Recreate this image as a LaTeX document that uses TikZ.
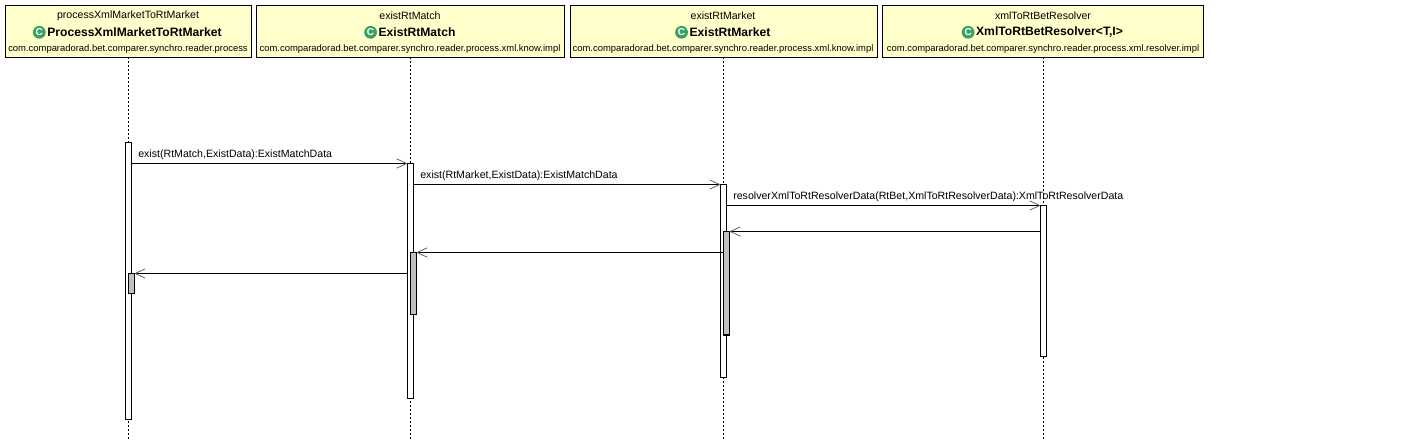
\documentclass[tikz,border=0pt]{standalone}
\usepackage{fontspec}
\setmainfont{Liberation Sans}
\usepackage{xcolor}
\usetikzlibrary{arrows.meta, positioning}
\definecolor{headfill}{RGB}{255,255,204}
\definecolor{iconfill}{RGB}{60,160,100}
\definecolor{focusfill}{RGB}{192,192,192}

\begin{document}
\begin{tikzpicture}[
    x=0.75pt, y=-0.75pt,
    head/.style={rectangle, draw, line width=0.8pt, fill=headfill, minimum height=38.6pt, inner sep=0pt, outer sep=0pt},
    objname/.style={font=\fontsize{7.95pt}{10pt}\selectfont, inner sep=0pt},
    classname/.style={font=\fontsize{9.1pt}{11pt}\selectfont\bfseries, inner sep=0pt},
    pkgname/.style={font=\fontsize{7.07pt}{9pt}\selectfont, inner sep=0pt},
    icon/.style={circle, fill=iconfill, text=white, minimum size=9.6pt, inner sep=0pt, font=\fontsize{7.5pt}{7.5pt}\selectfont\bfseries},
    lifeline/.style={line width=0.7pt, dash pattern=on 1.5pt off 1.5pt},
    bar/.style={rectangle, draw, line width=0.8pt, fill=white, minimum width=4.5pt, inner sep=0pt, outer sep=0pt, anchor=north},
    focus/.style={bar, fill=focusfill},
    call/.style={line width=0.8pt, -{Straight Barb[length=7.5pt,width=7pt,line width=0.55pt,color=black!65]}},
    msg/.style={font=\fontsize{7.95pt}{10pt}\selectfont, inner sep=0pt, anchor=south west, pos=0, xshift=4.7pt, yshift=2.6pt}
]
\useasboundingbox (0,0) rectangle (1408,446);

% object heads
\node[head, minimum width=184.5pt] (procHead) at (128.5,31.3) {};
\node[head, minimum width=231pt] (matchHead) at (410.5,31.3) {};
\node[head, minimum width=230.5pt] (marketHead) at (723.7,31.3) {};
\node[head, minimum width=240.5pt] (resolverHead) at (1042.8,31.3) {};

\node[objname] (procName) at (128,15.5) {processXmlMarketToRtMarket};
\node[classname] (procClass) at (134.5,32.3) {ProcessXmlMarketToRtMarket};
\node[icon, left=0.8pt of procClass] (procIcon) {C};
\node[pkgname] (procPkg) at (128,48.7) {com.comparadorad.bet.comparer.synchro.reader.process};

\node[objname] (matchName) at (410,15.5) {existRtMatch};
\node[classname] (matchClass) at (417,32.3) {ExistRtMatch};
\node[icon, left=0.8pt of matchClass] (matchIcon) {C};
\node[pkgname] (matchPkg) at (410,48.7) {com.comparadorad.bet.comparer.synchro.reader.process.xml.know.impl};

\node[objname] (marketName) at (723,15.5) {existRtMarket};
\node[classname] (marketClass) at (730,32.3) {ExistRtMarket};
\node[icon, left=0.8pt of marketClass] (marketIcon) {C};
\node[pkgname] (marketPkg) at (723,48.7) {com.comparadorad.bet.comparer.synchro.reader.process.xml.know.impl};

\node[objname] (resolverName) at (1043,15.5) {xmlToRtBetResolver};
\node[classname] (resolverClass) at (1049.5,32.3) {XmlToRtBetResolver<T,I>};
\node[icon, left=0.8pt of resolverClass] (resolverIcon) {C};
\node[pkgname] (resolverPkg) at (1043,48.7) {com.comparadorad.bet.comparer.synchro.reader.process.xml.resolver.impl};

% lifelines
\coordinate (procEnd) at (128.5,441);
\coordinate (matchEnd) at (410.5,441);
\coordinate (marketEnd) at (723.5,441);
\coordinate (resolverEnd) at (1043.5,441);
\draw[lifeline] (procHead.south -| procEnd) -- (procEnd);
\draw[lifeline] (matchHead.south -| matchEnd) -- (matchEnd);
\draw[lifeline] (marketHead.south -| marketEnd) -- (marketEnd);
\draw[lifeline] (resolverHead.south -| resolverEnd) -- (resolverEnd);

% activations
\node[bar, minimum height=207.7pt] (procBar) at (128.5,142.5) {};
\node[bar, minimum height=176pt] (matchBar) at (410.5,163.5) {};
\node[bar, minimum height=144.7pt] (marketBar) at (723.5,184.5) {};
\node[bar, minimum height=113.2pt] (resolverBar) at (1043.5,205.5) {};
\node[focus, minimum height=15pt] (procBack) at (131.3,273.5) {};
\node[focus, minimum height=46.2pt] (matchBack) at (413.3,252.5) {};
\node[focus, minimum height=77.6pt] (marketBack) at (726.5,231.5) {};

% messages
\draw[call] (procBar.east |- matchBar.north) -- node[msg] {exist(RtMatch,ExistData):ExistMatchData} (matchBar.north west);
\draw[call] (matchBar.east |- marketBar.north) -- node[msg] {exist(RtMarket,ExistData):ExistMatchData} (marketBar.north west);
\draw[call] (marketBar.east |- resolverBar.north) -- node[msg] {resolverXmlToRtResolverData(RtBet,XmlToRtResolverData):XmlToRtResolverData} (resolverBar.north west);
\draw[call] (resolverBar.west |- marketBack.north) -- (marketBack.north east);
\draw[call] (marketBack.west |- matchBack.north) -- (matchBack.north east);
\draw[call] (matchBar.west |- procBack.north) -- (procBack.north east);
\end{tikzpicture}
\end{document}
